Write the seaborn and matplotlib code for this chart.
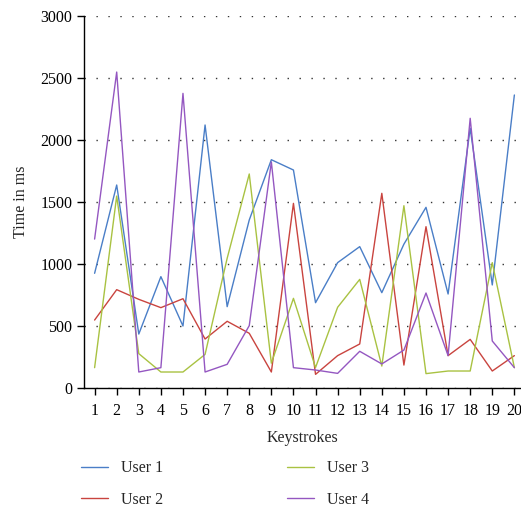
import matplotlib
matplotlib.use("Agg")
import matplotlib.pyplot as plt
import seaborn as sns
import pandas as pd

keystrokes = list(range(1, 21))
user1 = [925, 1637, 435, 898, 500, 2121, 656, 1355, 1841, 1758, 688, 1011, 1140, 769, 1160, 1457, 758, 2095, 831, 2363]
user2 = [548, 793, 715, 648, 720, 395, 538, 441, 129, 1489, 110, 261, 355, 1570, 185, 1301, 261, 392, 137, 261]
user3 = [164, 1548, 277, 129, 129, 271, 1046, 1726, 200, 723, 165, 651, 876, 177, 1470, 116, 137, 137, 1011, 164]
user4 = [1201, 2548, 129, 164, 2376, 129, 191, 503, 1823, 164, 145, 118, 296, 194, 306, 766, 261, 2175, 379, 164]
users = ["User 1", "User 2", "User 3", "User 4"]
colors = ["#4A7EC7", "#C9443F", "#A9C242", "#9457C1"]
y_ticks = [0, 500, 1000, 1500, 2000, 2500, 3000]

rows = []
for name, vals in zip(users, [user1, user2, user3, user4]):
    for k, v in zip(keystrokes, vals):
        rows.append({"Keystrokes": k, "Time": v, "User": name})
df = pd.DataFrame(rows)

sns.set_style("white")
plt.rcParams["font.family"] = ["Liberation Serif", "DejaVu Serif"]

fig = plt.figure(figsize=(5.21, 5.09), dpi=100)
ax = fig.add_axes([84 / 521, 1 - 388 / 509, 1 - 84 / 521, (388 - 16) / 509])

sns.lineplot(data=df, x="Keystrokes", y="Time", hue="User", palette=colors,
             hue_order=users, linewidth=1.0, ax=ax, legend=True)

ax.set_xlim(0.52, 20.3)
ax.set_ylim(0, 3000)
ax.set_xticks(keystrokes)
ax.set_yticks(y_ticks)
ax.tick_params(axis="both", labelsize=11.5, colors="black", direction="out",
               length=5, width=1, bottom=True, left=True)
ax.tick_params(axis="x", pad=6)
for s in ["top", "right"]:
    ax.spines[s].set_visible(False)
for s in ["left", "bottom"]:
    ax.spines[s].set_color("black")
    ax.spines[s].set_linewidth(1.0)
ax.yaxis.grid(True, color="#333333", linestyle=(0, (1, 7.6)), linewidth=1.0)
ax.xaxis.grid(False)
ax.set_axisbelow(True)
ax.set_xlabel("Keystrokes", fontsize=11.5, labelpad=8)
ax.set_ylabel("Time in ms", fontsize=11.5, labelpad=8)

handles, labels = ax.get_legend_handles_labels()
ax.legend_.remove()
fig.legend(handles, labels, ncol=2, loc="upper left",
           bbox_to_anchor=(67 / 521, 1 - 446 / 509), frameon=False,
           fontsize=11.5, handlelength=1.65, handletextpad=0.85,
           columnspacing=7.75, labelspacing=0.95)

fig.savefig("out.png", dpi=100)
